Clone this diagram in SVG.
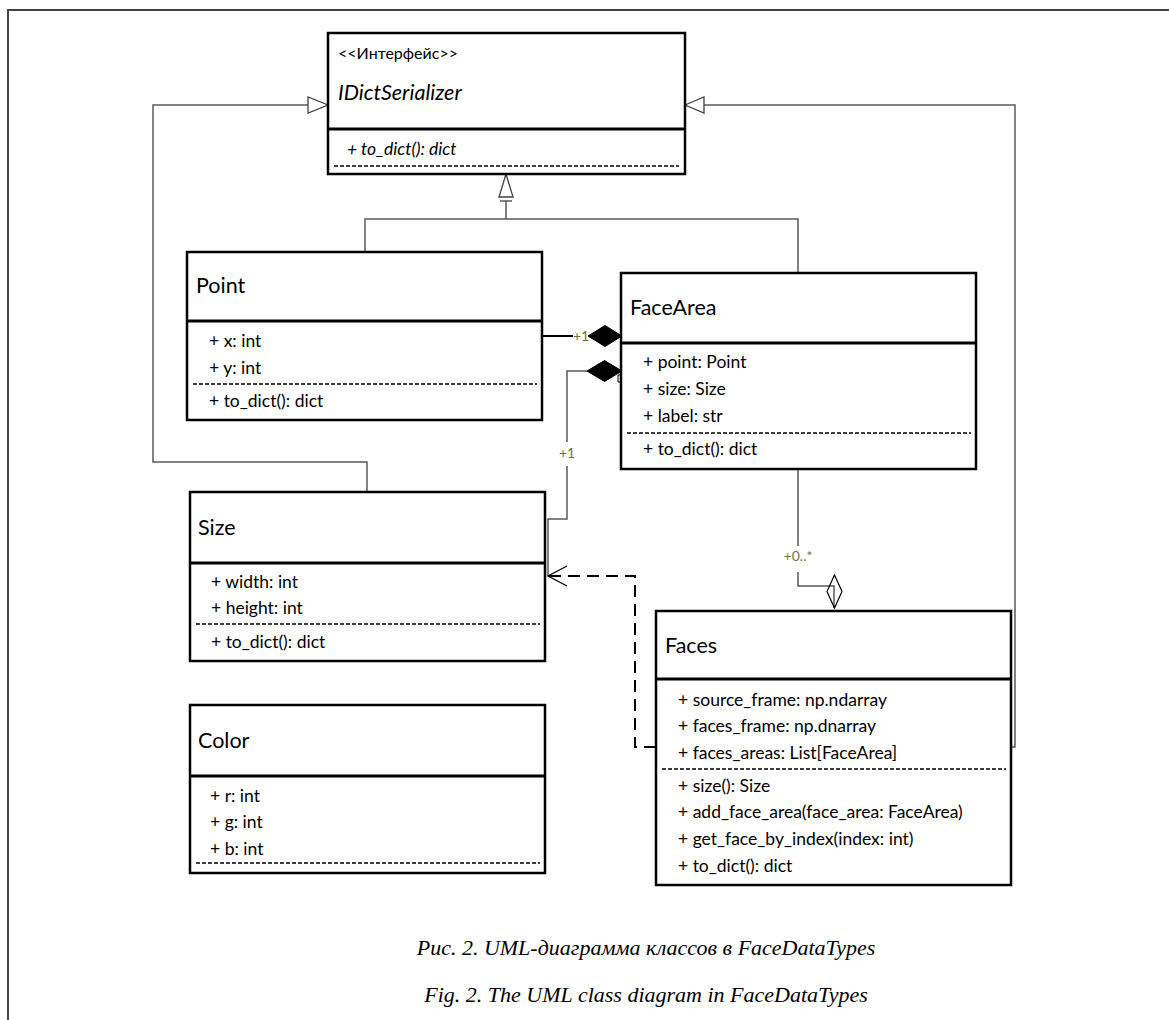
<svg xmlns="http://www.w3.org/2000/svg" width="1169" height="1020" viewBox="0 0 1169 1020">
  <style>
    .box{fill:#fff;stroke:#000;stroke-width:2.5}
    .sep{stroke:#000;stroke-width:3}
    .dsep{stroke:#000;stroke-width:1.5;stroke-dasharray:4 2}
    .t{font-family:Lato,'Noto Sans',sans-serif;fill:#000}
    .name{font-size:21.5px}
    .attr{font-size:17.5px}
    .it{font-style:italic}
    .conn{fill:none;stroke:#595959;stroke-width:1.5}
    .head{fill:#fff;stroke:#404040;stroke-width:1.3}
    .comp{fill:#000;stroke:#000;stroke-width:1}
    .mult{font-family:Lato,'Noto Sans',sans-serif;font-size:14px;fill:#7b6e3c;text-anchor:middle}
    .cap{font-family:'Liberation Serif',serif;font-style:italic;font-size:22px;text-anchor:middle;fill:#000}
  </style>

  <!-- page frame -->
  <path d="M8,1020 V10 H1169" fill="none" stroke="#444" stroke-width="2"/>

  <!-- connectors -->
  <g id="connectors">
    <!-- Size -> IDictSerializer (realization) -->
    <path class="conn" d="M367,492 V462 H153 V105 H308"/>
    <polygon class="head" points="328,105 308,97 308,113"/>
    <!-- Faces -> IDictSerializer (realization) -->
    <path class="conn" d="M1011,747 H1015 V105 H704"/>
    <polygon class="head" points="685,105 704,97 704,113"/>
    <!-- Point, FaceArea -> IDictSerializer (shared realization) -->
    <path class="conn" d="M365,252 V219 H798 V273 M506,219 V201"/>
    <polygon class="head" points="506,174 499,197 513,197"/>
    <line x1="500" y1="201" x2="512" y2="201" stroke="#404040" stroke-width="1.3"/>
    <!-- FaceArea ◆— Point -->
    <path d="M542,336 H573" fill="none" stroke="#000" stroke-width="2"/>
    <text class="mult" x="581" y="341">+1</text>
    <polygon class="comp" points="588,336 605,325.5 622,336 605,346.5"/>
    <!-- FaceArea ◆— Size -->
    <path class="conn" d="M587,371 H567 V442 M567,466 V519 H548 V576"/>
    <polygon class="comp" points="587,371 604.5,360.5 622,371 604.5,381.5"/>
    <path d="M621,375 H618 V382 H621" fill="none" stroke="#000" stroke-width="1"/>
    <text class="mult" x="567" y="458">+1</text>
    <!-- Faces ◇— FaceArea -->
    <path class="conn" d="M798,469 V546 M798,572 V586 H834 V608"/>
    <polygon points="834.5,575 842,591.5 834.5,608 827,591.5" fill="none" stroke="#000" stroke-width="1.2"/>
    <text class="mult" x="798" y="561">+0..*</text>
    <!-- Faces - - > Size (dependency) -->
    <path d="M656,747 H635 V576 H549" fill="none" stroke="#000" stroke-width="2" stroke-dasharray="12 7"/>
    <polyline points="567,566 548,576 567,586" fill="none" stroke="#000" stroke-width="1.3"/>
  </g>

  <!-- IDictSerializer interface -->
  <g id="IDictSerializer">
    <rect class="box" x="328" y="33" width="357" height="141"/>
    <line class="sep" x1="328" y1="129" x2="685" y2="129"/>
    <line class="dsep" x1="334" y1="166" x2="679" y2="166"/>
    <text class="t" x="338" y="59" font-size="16">&lt;&lt;Интерфейс&gt;&gt;</text>
    <text class="t name it" x="338" y="100">IDictSerializer</text>
    <text class="t attr it" x="347" y="155">+ to_dict(): dict</text>
  </g>

  <!-- Point -->
  <g id="Point">
    <rect class="box" x="187" y="252" width="355" height="168"/>
    <line class="sep" x1="187" y1="321" x2="542" y2="321"/>
    <line class="dsep" x1="193" y1="384" x2="537" y2="384"/>
    <text class="t name" x="196" y="293">Point</text>
    <text class="t attr" x="209" y="347">+ x: int</text>
    <text class="t attr" x="209" y="374">+ y: int</text>
    <text class="t attr" x="209" y="407">+ to_dict(): dict</text>
  </g>

  <!-- FaceArea -->
  <g id="FaceArea">
    <rect class="box" x="621" y="273" width="355" height="196"/>
    <line class="sep" x1="621" y1="343" x2="976" y2="343"/>
    <line class="dsep" x1="627" y1="433" x2="971" y2="433"/>
    <text class="t name" x="630" y="315">FaceArea</text>
    <text class="t attr" x="643" y="368">+ point: Point</text>
    <text class="t attr" x="643" y="395">+ size: Size</text>
    <text class="t attr" x="643" y="422">+ label: str</text>
    <text class="t attr" x="643" y="455">+ to_dict(): dict</text>
  </g>

  <!-- Size -->
  <g id="Size">
    <rect class="box" x="190" y="492" width="355" height="169"/>
    <line class="sep" x1="190" y1="563" x2="545" y2="563"/>
    <line class="dsep" x1="196" y1="624" x2="540" y2="624"/>
    <text class="t name" x="198" y="535">Size</text>
    <text class="t attr" x="211" y="588">+ width: int</text>
    <text class="t attr" x="211" y="614">+ height: int</text>
    <text class="t attr" x="211" y="648">+ to_dict(): dict</text>
  </g>

  <!-- Color -->
  <g id="Color">
    <rect class="box" x="190" y="705" width="355" height="168"/>
    <line class="sep" x1="190" y1="776" x2="545" y2="776"/>
    <line class="dsep" x1="196" y1="863" x2="540" y2="863"/>
    <text class="t name" x="198" y="748">Color</text>
    <text class="t attr" x="210" y="802">+ r: int</text>
    <text class="t attr" x="210" y="828">+ g: int</text>
    <text class="t attr" x="210" y="855">+ b: int</text>
  </g>

  <!-- Faces -->
  <g id="Faces">
    <rect class="box" x="656" y="611" width="355" height="274"/>
    <line class="sep" x1="656" y1="679" x2="1011" y2="679"/>
    <line class="dsep" x1="662" y1="769" x2="1006" y2="769"/>
    <text class="t name" x="665" y="653">Faces</text>
    <text class="t attr" x="678" y="706">+ source_frame: np.ndarray</text>
    <text class="t attr" x="678" y="732">+ faces_frame: np.dnarray</text>
    <text class="t attr" x="678" y="759">+ faces_areas: List[FaceArea]</text>
    <text class="t attr" x="678" y="792">+ size(): Size</text>
    <text class="t attr" x="678" y="818">+ add_face_area(face_area: FaceArea)</text>
    <text class="t attr" x="678" y="845">+ get_face_by_index(index: int)</text>
    <text class="t attr" x="678" y="872">+ to_dict(): dict</text>
  </g>

  <!-- captions -->
  <text class="cap" x="646" y="955">Рис. 2. UML-диаграмма классов в FaceDataTypes</text>
  <text class="cap" x="646" y="1002">Fig. 2. The UML class diagram in FaceDataTypes</text>
</svg>
